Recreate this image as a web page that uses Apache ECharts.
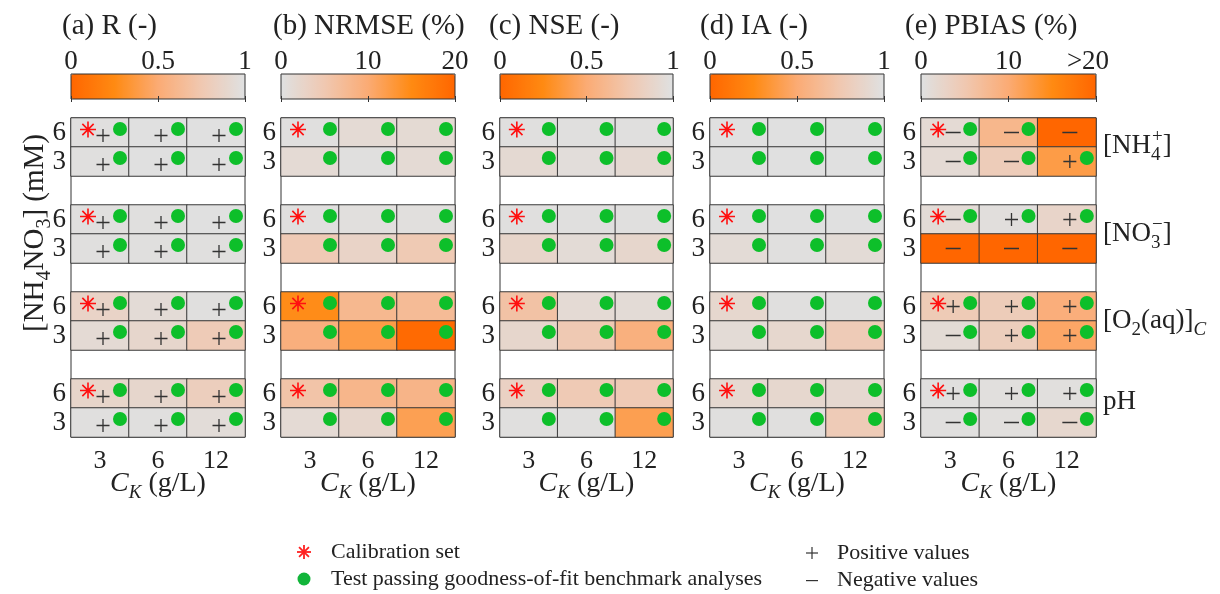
<!DOCTYPE html>
<html>
<head>
<meta charset="utf-8">
<script src="https://cdn.jsdelivr.net/npm/echarts@6/dist/echarts.min.js"></script>
<style>
  html, body { margin: 0; padding: 0; background: #fff; }
  #chart { width: 1220px; height: 594px; }
</style>
</head>
<body>
<div id="chart"></div>
<script>
// K concentration C_K (g/L) along the x axis of each panel
const ckLevels = ['3', '6', '12'];
// NH4NO3 level (mM) inside each variable block, top row first
const nh4no3Levels = ['6', '3'];
// variable blocks from top to bottom
const variableNames = ['NH4', 'NO3', 'O2', 'pH'];

// one row per variable/level pair: NH4(6), NH4(3), NO3(6), NO3(3), O2(6), O2(3), pH(6), pH(3)
// columns: C_K = 3, 6, 12 g/L
const rValues = [
  [0.98, 0.99, 0.99],
  [0.98, 0.99, 0.99],
  [0.98, 0.98, 0.99],
  [0.98, 0.98, 0.98],
  [0.86, 0.94, 0.98],
  [0.93, 0.89, 0.78],
  [0.88, 0.89, 0.81],
  [0.98, 0.98, 0.95]
];
const nrmseValues = [
  [0.4, 1.4, 1.5],
  [1.4, 0.4, 1.4],
  [0.4, 0.5, 0.5],
  [4.6, 2.8, 4.7],
  [14.7, 7.8, 7.2],
  [9.3, 12.3, 19.4],
  [5.7, 8.1, 8.4],
  [1.4, 2.2, 11.7]
];
const nseValues = [
  [0.98, 0.98, 0.98],
  [0.92, 0.96, 0.92],
  [0.98, 0.98, 0.98],
  [0.88, 0.94, 0.89],
  [0.70, 0.93, 0.94],
  [0.89, 0.76, 0.54],
  [0.84, 0.77, 0.77],
  [0.98, 0.98, 0.41]
];
const iaValues = [
  [0.99, 0.99, 0.99],
  [0.99, 0.99, 0.99],
  [0.99, 0.99, 0.99],
  [0.94, 0.98, 0.94],
  [0.90, 0.98, 0.98],
  [0.94, 0.90, 0.78],
  [0.91, 0.90, 0.91],
  [0.98, 0.98, 0.78]
];
const pbiasValues = [
  [-1.4, -8.0, -24.0],
  [-1.4, -4.2, 12.3],
  [-1.2, 0.6, 2.6],
  [-26.0, -31.0, -28.0],
  [4.5, 4.2, 9.4],
  [-1.3, 3.9, 10.7],
  [0.4, 0.5, 0.5],
  [-0.4, -0.5, -2.0]
];

// 1 = passes the goodness-of-fit benchmark
const passAll = [
  [1, 1, 1], [1, 1, 1], [1, 1, 1], [1, 1, 1],
  [1, 1, 1], [1, 1, 1], [1, 1, 1], [1, 1, 1]
];
const passPbias = [
  [1, 1, 0], [1, 1, 1], [1, 1, 1], [0, 0, 0],
  [1, 1, 1], [1, 1, 1], [1, 1, 1], [1, 1, 1]
];
// calibration set cells as [row, column]
const calibrationCells = [[0, 0], [2, 0], [4, 0], [6, 0]];

const FONT = 'Liberation Serif';
const TXT = '#222222';
const orangeToGrey = ['#ff6600', '#ff8a12', '#fbab74', '#f0c8b1', '#dfe1e2'];
const greyToOrange = orangeToGrey.slice().reverse();

const ASTERISK = 'path://M-10,-1L10,-1L10,1L-10,1Z M-1,-10L1,-10L1,10L-1,10Z ' +
  'M-6.36,-7.78L7.78,6.36L6.36,7.78L-7.78,-6.36Z M-7.78,6.36L6.36,-7.78L7.78,-6.36L-6.36,7.78Z';
const PLUS = 'path://M-1,-10L1,-10L1,-1L10,-1L10,1L1,1L1,10L-1,10L-1,1L-10,1L-10,-1L-1,-1Z';
const MINUS = 'path://M-10,-1L10,-1L10,1L-10,1Z';

const panels = [
  { title: '(a) R (-)', values: rValues, pass: passAll, max: 1, interval: 0.5,
    colors: orangeToGrey, signs: true, signDy: 3, left: 71, width: 174, titleX: 62 },
  { title: '(b) NRMSE (%)', values: nrmseValues, pass: passAll, max: 20, interval: 10,
    colors: greyToOrange, signs: false, left: 281, width: 174, titleX: 273 },
  { title: '(c) NSE (-)', values: nseValues, pass: passAll, max: 1, interval: 0.5,
    colors: orangeToGrey, signs: false, left: 500, width: 173, titleX: 489 },
  { title: '(d) IA (-)', values: iaValues, pass: passAll, max: 1, interval: 0.5,
    colors: orangeToGrey, signs: false, left: 710, width: 174, titleX: 700 },
  { title: '(e) PBIAS (%)', values: pbiasValues, pass: passPbias, max: 20, interval: 10,
    colors: greyToOrange, signs: true, signDy: 0, left: 921, width: 175, titleX: 905, topLabel: '>20' }
];

const GRID_TOP = 118, GRID_H = 319;
const BAR_TOP = 74, BAR_H = 25;

// 11 row slots: two levels per variable plus an empty spacer between blocks
const rowSlots = [];
for (let g = 0; g < variableNames.length; g++) {
  nh4no3Levels.forEach(l => rowSlots.push(l));
  if (g < variableNames.length - 1) rowSlots.push('');
}
const slotOf = r => Math.floor(r / 2) * 3 + (r % 2);

const grids = [], xAxes = [], yAxes = [], series = [], visualMaps = [], graphics = [];
const n = panels.length;

panels.forEach((p, i) => {
  grids[i] = { left: p.left, top: GRID_TOP, width: p.width, height: GRID_H,
    show: true, borderColor: '#333', borderWidth: 1, backgroundColor: 'transparent' };
  grids[n + i] = { left: p.left, top: BAR_TOP, width: p.width, height: BAR_H,
    show: true, borderColor: '#333', borderWidth: 1, backgroundColor: 'transparent', z: 6 };

  xAxes[i] = { gridIndex: i, type: 'category', data: ckLevels,
    axisLine: { show: false }, axisTick: { show: false }, splitLine: { show: false },
    axisLabel: { fontFamily: FONT, fontSize: 26, color: TXT, margin: 11 } };
  xAxes[n + i] = { gridIndex: n + i, type: 'value', min: 0, max: p.max, interval: p.interval,
    position: 'top', z: 7, axisLine: { show: false }, splitLine: { show: false },
    axisTick: { inside: true, length: 3, lineStyle: { color: '#333' } },
    axisLabel: { fontFamily: FONT, fontSize: 27, color: TXT, margin: -1,
      formatter: v => (v === p.max && p.topLabel) ? '{cap|' + p.topLabel + '}' : String(v),
      rich: { cap: { fontFamily: FONT, fontSize: 27, color: TXT, padding: [0, 16, 0, 0] } } } };
  xAxes[2 * n + i] = { gridIndex: n + i, type: 'value', min: 0, max: p.max, interval: p.interval,
    position: 'bottom', z: 7, axisLine: { show: false }, splitLine: { show: false },
    axisTick: { inside: true, length: 3, lineStyle: { color: '#333' } },
    axisLabel: { show: false } };

  const yBase = { gridIndex: i, type: 'category', data: rowSlots, inverse: true,
    axisLine: { show: false }, splitLine: { show: false },
    axisTick: { inside: true, length: 4, alignWithLabel: true, interval: 0, lineStyle: { color: '#333' } } };
  yAxes[i] = Object.assign({}, yBase, { position: 'left',
    axisLabel: { fontFamily: FONT, fontSize: 27, color: TXT, margin: 5, interval: 0 } });
  yAxes[n + i] = Object.assign({}, yBase, { position: 'right', axisLabel: { show: false } });
  yAxes[2 * n + i] = { gridIndex: n + i, type: 'value', show: false, min: 0, max: 1 };

  // heatmap cells: [column, row slot, colour value, signed value]
  const cells = [], dots = [], plus = [], minus = [];
  p.values.forEach((row, r) => row.forEach((v, c) => {
    cells.push([c, slotOf(r), Math.abs(v), v]);
    if (p.pass[r][c]) dots.push([c, slotOf(r)]);
    if (p.signs) (v >= 0 ? plus : minus).push([c, slotOf(r)]);
  }));
  const stars = calibrationCells.map(([r, c]) => [c, slotOf(r)]);

  const heatIndex = series.length;
  series.push({ type: 'heatmap', name: p.title, xAxisIndex: i, yAxisIndex: i, data: cells, z: 2,
    itemStyle: { borderColor: '#3a3a3a', borderWidth: 1 }, emphasis: { disabled: true } });
  series.push({ type: 'scatter', name: 'Test passing goodness-of-fit benchmark analyses',
    xAxisIndex: i, yAxisIndex: i, data: dots, z: 4, symbol: 'circle', symbolSize: 14,
    symbolOffset: [20, -3.5], itemStyle: { color: '#0dbf2a', opacity: 1 }, emphasis: { disabled: true } });
  series.push({ type: 'scatter', name: 'Calibration set', xAxisIndex: i, yAxisIndex: i,
    data: stars, z: 4, symbol: ASTERISK, symbolSize: 16, symbolOffset: [-12, -3],
    itemStyle: { color: '#ff1010', opacity: 1 }, emphasis: { disabled: true } });
  if (p.signs) {
    series.push({ type: 'scatter', name: 'Positive values', xAxisIndex: i, yAxisIndex: i,
      data: plus, z: 4, symbol: PLUS, symbolSize: 13, symbolOffset: [3, p.signDy],
      itemStyle: { color: '#333', opacity: 1 }, emphasis: { disabled: true } });
    series.push({ type: 'scatter', name: 'Negative values', xAxisIndex: i, yAxisIndex: i,
      data: minus, z: 4, symbol: MINUS, symbolSize: [15, 1.5], symbolOffset: [3, p.signDy],
      itemStyle: { color: '#333', opacity: 1 }, emphasis: { disabled: true } });
  }

  visualMaps.push({ type: 'continuous', seriesIndex: heatIndex, dimension: 2,
    min: 0, max: p.max, inRange: { color: p.colors }, orient: 'horizontal',
    left: p.left, top: BAR_TOP, itemWidth: BAR_H, itemHeight: p.width,
    padding: 0, calculable: false, hoverLink: false, text: null, z: 2 });

  graphics.push({ type: 'text', x: p.titleX, y: 26,
    style: { text: p.title, fontFamily: FONT, fontSize: 29, fill: TXT, align: 'left', verticalAlign: 'middle' } });

  // x axis name: C_K (g/L)
  graphics.push({ type: 'text', x: p.left + p.width / 2, y: 484,
    style: { text: '{i|C}{k|K}{n| (g/L)}', align: 'center', verticalAlign: 'middle', fill: TXT,
      rich: {
        i: { fontFamily: FONT, fontSize: 28, fontStyle: 'italic', lineHeight: 36 },
        k: { fontFamily: FONT, fontSize: 19, fontStyle: 'italic', lineHeight: 19, verticalAlign: 'bottom' },
        n: { fontFamily: FONT, fontSize: 28, lineHeight: 36 }
      } } });
});

const richBase = {
  b: { fontFamily: FONT, fontSize: 27, lineHeight: 37, color: TXT },
  s: { fontFamily: FONT, fontSize: 19, lineHeight: 19, verticalAlign: 'bottom', color: TXT },
  sw: { fontFamily: FONT, fontSize: 19, lineHeight: 19, verticalAlign: 'bottom', width: 1, color: TXT },
  p: { fontFamily: FONT, fontSize: 19, lineHeight: 19, verticalAlign: 'top', color: TXT },
  si: { fontFamily: FONT, fontSize: 19, lineHeight: 19, verticalAlign: 'bottom', fontStyle: 'italic', color: TXT }
};
const richName = {
  b: { fontFamily: FONT, fontSize: 29, lineHeight: 39, color: TXT },
  s: { fontFamily: FONT, fontSize: 20, lineHeight: 20, verticalAlign: 'bottom', color: TXT }
};
const sideLabels = [
  { text: '{b|[NH}{sw|4}{p|+}{b|]}', y: 146 },
  { text: '{b|[NO}{sw|3}{p|−}{b|]}', y: 234 },
  { text: '{b|[O}{s|2}{b|(aq)]}{si|C}', y: 321 },
  { text: '{b|pH}', y: 402 }
];
sideLabels.forEach(s => graphics.push({ type: 'text', x: 1103, y: s.y,
  style: { text: s.text, rich: richBase, fill: TXT, align: 'left', verticalAlign: 'middle' } }));

// y axis name
graphics.push({ type: 'text', x: 35, y: 233, rotation: Math.PI / 2,
  style: { text: '{b|[NH}{s|4}{b|NO}{s|3}{b|] (mM)}', rich: richName, fill: TXT,
    align: 'center', verticalAlign: 'middle' } });

// legend entries
const legendFont = { fontFamily: FONT, fontSize: 22, fill: TXT, align: 'left', verticalAlign: 'middle' };
const starArms = [0, 45, 90, 135].map(a => {
  const rad = a * Math.PI / 180, L = 7;
  return { type: 'line', shape: { x1: 304 - L * Math.cos(rad), y1: 552 - L * Math.sin(rad),
    x2: 304 + L * Math.cos(rad), y2: 552 + L * Math.sin(rad) },
    style: { stroke: '#ff2020', lineWidth: 1.8 } };
});
graphics.push(...starArms,
  { type: 'text', x: 331, y: 552, style: Object.assign({ text: 'Calibration set' }, legendFont) },
  { type: 'circle', shape: { cx: 304, cy: 579, r: 6.5 }, style: { fill: '#12b53a' } },
  { type: 'text', x: 331, y: 579, style: Object.assign({ text: 'Test passing goodness-of-fit benchmark analyses' }, legendFont) },
  { type: 'rect', shape: { x: 806, y: 552.4, width: 12, height: 1.2 }, style: { fill: '#333' } },
  { type: 'rect', shape: { x: 811.4, y: 547, width: 1.2, height: 12 }, style: { fill: '#333' } },
  { type: 'text', x: 837, y: 553, style: Object.assign({ text: 'Positive values' }, legendFont) },
  { type: 'rect', shape: { x: 806, y: 580, width: 12, height: 1.2 }, style: { fill: '#333' } },
  { type: 'text', x: 837, y: 580, style: Object.assign({ text: 'Negative values' }, legendFont) }
);

const chart = echarts.init(document.getElementById('chart'), null, { renderer: 'canvas' });
chart.setOption({
  animation: false,
  backgroundColor: '#ffffff',
  grid: grids,
  xAxis: xAxes,
  yAxis: yAxes,
  visualMap: visualMaps,
  series: series,
  graphic: graphics
});
</script>
</body>
</html>
